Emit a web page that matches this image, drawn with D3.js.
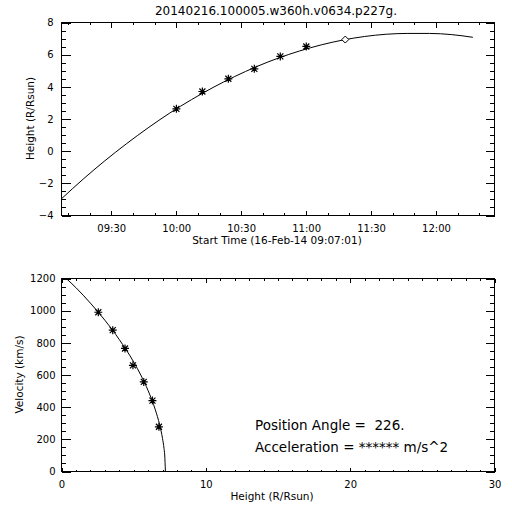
<!DOCTYPE html>
<html>
<head>
<meta charset="utf-8">
<script src="https://cdn.jsdelivr.net/npm/d3@7"></script>
<style>
  html, body { margin: 0; padding: 0; background: #fff; }
  svg { display: block; }
  text { font-family: "DejaVu Sans", sans-serif; fill: #000; }
</style>
</head>
<body>
<svg id="chart" width="512" height="512"></svg>
<script>
// ---------------- data ----------------
const chartTitle = "20140216.100005.w360h.v0634.p227g.";
const dayStr = "2014-02-16";
const timeDomain = ["09:07:01", "12:27:01"];
const timeTickLabels = ["09:30", "10:00", "10:30", "11:00", "11:30", "12:00"];
const heightTicks = [-4, -2, 0, 2, 4, 6, 8];

// fitted height-time curve
const curveTimes = ["09:07:01","09:17:01","09:27:01","09:37:01","09:47:01","09:57:01",
  "10:07:01","10:17:01","10:27:01","10:37:01","10:47:01","10:57:01","11:07:01","11:17:01",
  "11:27:01","11:37:01","11:47:01","11:57:01","12:07:01","12:17:01"];
const curveHeights = [-2.96,-1.74,-0.60,0.46,1.45,2.37,3.20,3.96,4.64,5.25,5.78,6.23,
  6.61,6.91,7.13,7.27,7.32,7.32,7.25,7.08];

// measured points (asterisks) and last point (diamond)
const starTimes = ["10:00:05","10:12:05","10:24:05","10:36:05","10:48:05","11:00:05"];
const starHeights = [2.63, 3.71, 4.50, 5.12, 5.89, 6.51];
const diamondTimes = ["11:18:05"];
const diamondHeights = [6.94];

// velocity vs height
const velHeightTicks = [0, 10, 20, 30];
const velocityTicks = [0, 200, 400, 600, 800, 1000, 1200];
const velPointHeights = [2.55, 3.55, 4.40, 4.95, 5.70, 6.30, 6.75];
const velPointValues = [990, 879, 765, 660, 557, 441, 278];
const velCurveHeights = [0.33, 1.0, 2.0, 3.0, 4.0, 5.0, 5.5, 6.0, 6.5, 6.8, 7.0, 7.1, 7.15, 7.2];
const velCurveValues = [1200, 1143, 1047, 941, 821, 681, 599, 503, 384, 290, 205, 145, 103, 0];

const annotation1 = "Position Angle =  226.";
const annotation2 = "Acceleration = ****** m/s^2";

// ---------------- drawing ----------------
const svg = d3.select("#chart");
const parseT = s => new Date(dayStr + "T" + s);

function frameAxes(g, x, y, opts) {
  const [xl, xr] = x.range();
  const [yb, yt] = y.range();
  // minor ticks
  const minorAxis = (axisFn, scale, vals, size, tr) => {
    g.append("g").attr("transform", tr)
      .call(axisFn(scale).tickValues(vals).tickSize(size).tickFormat("").tickSizeOuter(0))
      .call(s => s.select(".domain").remove());
  };
  minorAxis(d3.axisBottom, x, opts.xMinor, -opts.xMinorLen, `translate(0,${yb})`);
  minorAxis(d3.axisTop, x, opts.xMinor, -opts.xMinorLen, `translate(0,${yt})`);
  minorAxis(d3.axisLeft, y, opts.yMinor, -opts.yMinorLen, `translate(${xl},0)`);
  minorAxis(d3.axisRight, y, opts.yMinor, -opts.yMinorLen, `translate(${xr},0)`);

  // major ticks, labelled bottom & left
  const xb = g.append("g").attr("transform", `translate(0,${yb})`)
    .call(d3.axisBottom(x).tickValues(opts.xMajor).tickSize(-opts.xMajorLen)
      .tickSizeOuter(0).tickPadding(opts.xPad).tickFormat(opts.xFormat));
  const yl = g.append("g").attr("transform", `translate(${xl},0)`)
    .call(d3.axisLeft(y).tickValues(opts.yMajor).tickSize(-opts.yMajorLen)
      .tickSizeOuter(0).tickPadding(opts.yPad).tickFormat(opts.yFormat));
  g.append("g").attr("transform", `translate(0,${yt})`)
    .call(d3.axisTop(x).tickValues(opts.xMajor).tickSize(-opts.xMajorLen).tickSizeOuter(0).tickFormat(""));
  g.append("g").attr("transform", `translate(${xr},0)`)
    .call(d3.axisRight(y).tickValues(opts.yMajor).tickSize(-opts.yMajorLen).tickSizeOuter(0).tickFormat(""));

  g.selectAll(".domain").remove();
  g.selectAll(".tick line").attr("stroke", "#000").attr("shape-rendering", "crispEdges");
  xb.selectAll("text").attr("font-family", "DejaVu Sans").attr("font-size", 10).attr("fill", "#000");
  yl.selectAll("text").attr("font-family", "DejaVu Sans").attr("font-size", 10).attr("fill", "#000");
  xb.selectAll("text").attr("dy", null).attr("y", opts.xLabelY - yb);

  // frame
  g.append("rect")
    .attr("x", xl).attr("y", yt).attr("width", xr - xl).attr("height", yb - yt)
    .attr("fill", "none").attr("stroke", "#000").attr("shape-rendering", "crispEdges");
}

const asteriskPath = "M-4,0H4M0,-4V4M-3,-3L3,3M-3,3L3,-3";
const diamondPath = "M-3.5,0L0,-3.5L3.5,0L0,3.5Z";

// ===== top plot =====
const x1 = d3.scaleTime().domain(timeDomain.map(parseT)).range([61.5, 494.5]);
const y1 = d3.scaleLinear().domain([-4, 8]).range([215.5, 22.5]);
const g1 = svg.append("g");

const minorTimes = d3.timeMinute.every(10).range(x1.domain()[0], x1.domain()[1]);
frameAxes(g1, x1, y1, {
  xMajor: timeTickLabels.map(parseT), xMinor: minorTimes,
  yMajor: heightTicks, yMinor: d3.range(-4, 8.01, 0.5),
  xMajorLen: 5, xMinorLen: 2.5, yMajorLen: 9, yMinorLen: 4.5,
  xPad: 6, yPad: 8, xLabelY: 231.5,
  xFormat: d3.timeFormat("%H:%M"), yFormat: d3.format("d")
});

svg.append("clipPath").attr("id", "clip1").append("rect")
  .attr("x", 61.5).attr("y", 22.5).attr("width", 433).attr("height", 193);
svg.append("clipPath").attr("id", "clip2").append("rect")
  .attr("x", 61.5).attr("y", 278.5).attr("width", 433).attr("height", 193);

const line1 = d3.line().x(d => x1(parseT(d[0]))).y(d => y1(d[1])).curve(d3.curveMonotoneX);
g1.append("path").datum(d3.zip(curveTimes, curveHeights))
  .attr("d", line1).attr("fill", "none").attr("stroke", "#000").attr("stroke-width", 1)
  .attr("clip-path", "url(#clip1)");

g1.selectAll("path.star").data(d3.zip(starTimes, starHeights)).join("path")
  .attr("class", "star").attr("d", asteriskPath)
  .attr("transform", d => `translate(${x1(parseT(d[0]))},${y1(d[1])})`)
  .attr("fill", "none").attr("stroke", "#000").attr("stroke-width", 1.2);
g1.selectAll("path.diam").data(d3.zip(diamondTimes, diamondHeights)).join("path")
  .attr("class", "diam").attr("d", diamondPath)
  .attr("transform", d => `translate(${x1(parseT(d[0]))},${y1(d[1])})`)
  .attr("fill", "#fff").attr("stroke", "#000").attr("stroke-width", 1);

svg.append("text").attr("x", 276).attr("y", 15).attr("text-anchor", "middle")
  .attr("font-size", 12).text(chartTitle);
svg.append("text").attr("x", 277).attr("y", 243.5).attr("text-anchor", "middle")
  .attr("font-size", 10.5).text("Start Time (16-Feb-14 09:07:01)");
svg.append("text").attr("transform", "translate(34,118.5) rotate(-90)")
  .attr("text-anchor", "middle").attr("font-size", 10.5).text("Height (R/Rsun)");

// ===== bottom plot =====
const x2 = d3.scaleLinear().domain([0, 30]).range([61.5, 494.5]);
const y2 = d3.scaleLinear().domain([0, 1200]).range([471.5, 278.5]);
const g2 = svg.append("g");
frameAxes(g2, x2, y2, {
  xMajor: velHeightTicks, xMinor: d3.range(0, 30.01, 1),
  yMajor: velocityTicks, yMinor: d3.range(0, 1200.1, 50),
  xMajorLen: 4, xMinorLen: 2, yMajorLen: 9, yMinorLen: 4.5,
  xPad: 6, yPad: 6, xLabelY: 487.5,
  xFormat: d3.format("d"), yFormat: d3.format("d")
});

const line2 = d3.line().x(d => x2(d[0])).y(d => y2(d[1])).curve(d3.curveMonotoneX);
g2.append("path").datum(d3.zip(velCurveHeights, velCurveValues))
  .attr("d", line2).attr("fill", "none").attr("stroke", "#000").attr("stroke-width", 1)
  .attr("clip-path", "url(#clip2)");
g2.selectAll("path.star").data(d3.zip(velPointHeights, velPointValues)).join("path")
  .attr("class", "star").attr("d", asteriskPath)
  .attr("transform", d => `translate(${x2(d[0])},${y2(d[1])})`)
  .attr("fill", "none").attr("stroke", "#000").attr("stroke-width", 1.2);

svg.append("text").attr("x", 272).attr("y", 500).attr("text-anchor", "middle")
  .attr("font-size", 10.5).text("Height (R/Rsun)");
svg.append("text").attr("transform", "translate(23,374.5) rotate(-90)")
  .attr("text-anchor", "middle").attr("font-size", 10.5).text("Velocity (km/s)");

svg.append("text").attr("x", 255).attr("y", 430).attr("font-size", 13.5)
  .style("white-space", "pre").text(annotation1);
svg.append("text").attr("x", 255).attr("y", 452).attr("font-size", 13.5)
  .style("white-space", "pre").text(annotation2);
</script>
</body>
</html>
